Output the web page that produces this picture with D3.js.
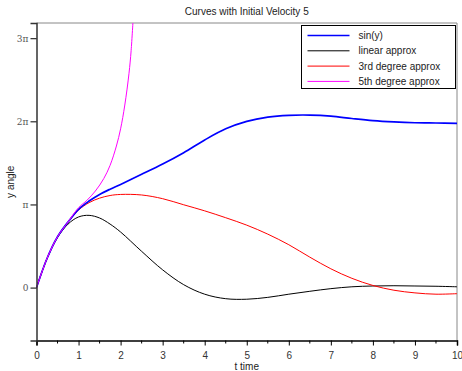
<!DOCTYPE html>
<html>
<head>
<meta charset="utf-8">
<script src="https://cdn.jsdelivr.net/npm/d3@7"></script>
<style>
  body { margin: 0; background: #fff; }
  svg { display: block; font-family: "Liberation Sans", Arial, sans-serif; }
</style>
</head>
<body>
<div id="chart"></div>
<script>
// Values
var titleText = "Curves with Initial Velocity 5";
var xLabel = "t time";
var yLabel = "y angle";

var xTicks = [0, 1, 2, 3, 4, 5, 6, 7, 8, 9, 10];
var yTickValues = [0, Math.PI, 2 * Math.PI, 3 * Math.PI];
var yTickLabels = ["0", "\u03c0", "2\u03c0", "3\u03c0"];

var tGrid = [0, 0.25, 0.5, 0.75, 1, 1.25, 1.5, 1.75, 2, 2.5, 3, 3.5, 4, 4.5, 5,
             5.5, 6, 6.5, 7, 7.5, 8, 8.5, 9, 9.5, 10];

var sinValues = [0, 1.10, 1.92, 2.48, 2.96, 3.27, 3.52, 3.72, 3.90, 4.28, 4.67, 5.10,
                 5.58, 6.00, 6.28, 6.44, 6.51, 6.52, 6.48, 6.39, 6.31, 6.26, 6.23, 6.22, 6.21];

var linearValues = [0, 1.09, 1.89, 2.40, 2.67, 2.73, 2.63, 2.40, 2.10, 1.37, 0.67, 0.11,
                    -0.25, -0.42, -0.44, -0.37, -0.25, -0.14, -0.04, 0.03, 0.06, 0.07, 0.06, 0.05, 0.03];

var thirdValues = [0, 1.10, 1.92, 2.47, 2.93, 3.21, 3.38, 3.48, 3.52, 3.50, 3.36, 3.13,
                   2.90, 2.64, 2.36, 2.02, 1.62, 1.15, 0.71, 0.35, 0.08, -0.10, -0.20, -0.25, -0.23];

var fifthT = [0, 0.25, 0.5, 0.75, 1, 1.2, 1.4, 1.6, 1.75, 1.9, 2.0, 2.1, 2.2, 2.25, 2.3];
var fifthValues = [0, 1.10, 1.92, 2.48, 3.02, 3.30, 3.65, 4.12, 4.62, 5.35, 6.00, 6.90, 8.10, 8.95, 10.2];

var seriesNames = ["sin(y)", "linear approx", "3rd degree approx", "5th degree approx"];
var seriesColors = ["#0000ff", "#000000", "#ff0000", "#ff00ff"];
var seriesWidths = [1.7, 1, 1, 1];

function zipSeries(ts, ys) {
    return ts.map(function(t, i) { return {t: t, y: ys[i]}; });
}

var series = [
    zipSeries(tGrid, sinValues),
    zipSeries(tGrid, linearValues),
    zipSeries(tGrid, thirdValues),
    zipSeries(fifthT, fifthValues)
];

var width = 462, height = 371;
var margin = {top: 23, right: 5, bottom: 30, left: 36.5};

var x = d3.scaleLinear().domain([0, 10]).range([margin.left, width - margin.right]);
var y = d3.scaleLinear().domain([-2, 10]).range([height - margin.bottom - 0.5, margin.top]);

var svg = d3.select("#chart").append("svg")
    .attr("width", width)
    .attr("height", height);

svg.append("rect").attr("width", width).attr("height", height).attr("fill", "#fff");

svg.append("clipPath").attr("id", "plotclip")
  .append("rect")
    .attr("x", x(0)).attr("y", y(10))
    .attr("width", x(10) - x(0)).attr("height", y(-2) - y(10));

// Frame: gray top and right edges
svg.append("path")
    .attr("d", "M" + x(0) + "," + y(10) + "H" + x(10) + "V" + y(-2))
    .attr("fill", "none")
    .attr("stroke", "#888")
    .attr("stroke-width", 1);

// Curves
var line = d3.line()
    .x(function(d) { return x(d.t); })
    .y(function(d) { return y(d.y); })
    .curve(d3.curveCatmullRom.alpha(0.5));

var plot = svg.append("g").attr("clip-path", "url(#plotclip)");
[1, 2, 0, 3].forEach(function(i) {
    plot.append("path")
        .attr("d", line(series[i]))
        .attr("fill", "none")
        .attr("stroke", seriesColors[i])
        .attr("stroke-width", seriesWidths[i]);
});

// X axis
var xAxis = d3.axisBottom(x).tickValues(xTicks).tickSize(5).tickPadding(6)
    .tickFormat(d3.format("d"));
var gx = svg.append("g")
    .attr("transform", "translate(0," + y(-2) + ")")
    .call(xAxis);
gx.selectAll("text").attr("fill", "#333").style("font-size", "10px")
    .style("font-family", "'Liberation Sans', Arial, sans-serif");
gx.select(".domain").attr("stroke", "#000").attr("stroke-width", 1.5);
var minorTicks = d3.range(0.5, 10, 1);
gx.selectAll(".minor").data(minorTicks).enter().append("line")
    .attr("class", "minor")
    .attr("x1", function(d) { return x(d); }).attr("x2", function(d) { return x(d); })
    .attr("y1", 0).attr("y2", 3)
    .attr("stroke", "#000");

// Y axis
var yAxis = d3.axisLeft(y).tickValues(yTickValues).tickSize(6).tickPadding(2)
    .tickFormat(function(d, i) { return yTickLabels[i]; });
var gy = svg.append("g")
    .attr("transform", "translate(" + x(0) + ",0)")
    .call(yAxis);
gy.selectAll("text").attr("fill", "#555").style("font-size", "9px")
    .style("font-family", "'DejaVu Serif', 'Liberation Serif', serif");
gy.select(".domain").attr("stroke", "#333").attr("stroke-width", 1.5);

// Title and labels
svg.append("text")
    .attr("x", (x(0) + x(10)) / 2).attr("y", 15)
    .attr("text-anchor", "middle")
    .style("font-size", "10px").attr("fill", "#222")
    .text(titleText);

svg.append("text")
    .attr("x", (x(0) + x(10)) / 2).attr("y", 370)
    .attr("text-anchor", "middle")
    .style("font-size", "10px").attr("fill", "#222")
    .text(xLabel);

svg.append("text")
    .attr("transform", "translate(14," + (y(-2) + y(10)) / 2 + ") rotate(-90)")
    .attr("text-anchor", "middle")
    .style("font-size", "10px").attr("fill", "#222")
    .text(yLabel);

// Legend
var legend = svg.append("g").attr("transform", "translate(301.5,25.5)");
legend.append("rect")
    .attr("width", 154).attr("height", 63)
    .attr("fill", "#fff").attr("stroke", "#000").attr("stroke-width", 1);
seriesNames.forEach(function(name, i) {
    var row = legend.append("g").attr("transform", "translate(0," + (10 + i * 15.3) + ")");
    row.append("line")
        .attr("x1", 6).attr("x2", 48)
        .attr("stroke", seriesColors[i])
        .attr("stroke-width", seriesWidths[i]);
    row.append("text")
        .attr("x", 57).attr("y", 3.5)
        .style("font-size", "10px").attr("fill", "#222")
        .text(name);
});
</script>
</body>
</html>
